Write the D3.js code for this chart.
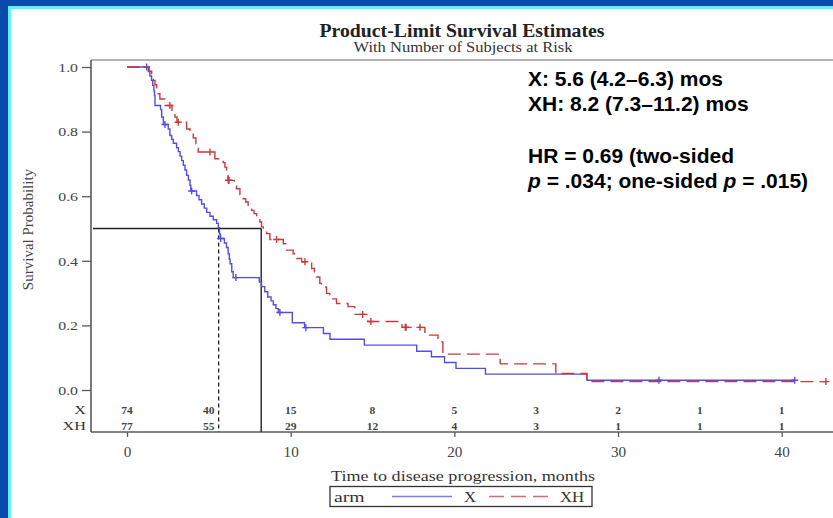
<!DOCTYPE html>
<html>
<head>
<meta charset="utf-8">
<script src="https://cdn.jsdelivr.net/npm/d3@7"></script>
<style>
  html, body { margin: 0; padding: 0; background: #0a4aad; }
  svg { display: block; }
</style>
</head>
<body>
<svg id="chart" width="833" height="518"></svg>
<script>
// Kaplan-Meier progression-free curves, arm X vs arm XH
const armNames = ["X", "XH"];

// arm X: event times (months) and survival after each event
const xEventTimes = [1.30, 1.40, 1.50, 1.57, 1.64, 1.68, 1.71, 2.05, 2.12, 2.22, 2.52, 2.62, 2.73, 2.83, 3.03,
  3.14, 3.24, 3.34, 3.44, 3.54, 3.64, 3.75, 3.85, 3.90, 4.25, 4.40, 4.56, 4.72, 4.87, 5.07, 5.27, 5.48,
  5.58, 5.65, 5.70, 5.95, 6.08, 6.18, 6.25, 6.30, 6.40, 6.49, 8.08, 8.22, 8.42, 8.60, 8.80, 8.94, 9.10,
  9.25, 10.10, 10.85, 12.00, 12.40, 14.50, 17.70, 18.60, 19.40, 20.10, 21.90, 28.10];
const xSurvival = [0.986, 0.972, 0.959, 0.943, 0.926, 0.912, 0.881, 0.868, 0.845, 0.822, 0.808, 0.788, 0.776, 0.764, 0.750,
  0.738, 0.724, 0.710, 0.696, 0.681, 0.665, 0.650, 0.634, 0.616, 0.602, 0.589, 0.576, 0.563, 0.550, 0.538, 0.527, 0.516,
  0.503, 0.483, 0.469, 0.455, 0.441, 0.422, 0.405, 0.391, 0.366, 0.348, 0.334, 0.320, 0.304, 0.288, 0.276, 0.264, 0.252,
  0.240, 0.208, 0.193, 0.175, 0.157, 0.139, 0.120, 0.103, 0.085, 0.067, 0.049, 0.030];
const xCensorTimes = [1.2, 2.32, 3.95, 5.72, 6.65, 9.34, 10.93, 32.5, 40.8];
const xLastTime = 40.8;

// arm XH: event times (months) and survival after each event
const xhEventTimes = [1.36, 1.51, 1.61, 1.71, 1.81, 1.91, 2.01, 2.32, 2.75, 2.93, 3.05, 3.64, 3.85, 4.05, 4.21, 4.35,
  5.37, 5.88, 5.98, 6.08, 6.17, 6.55, 6.69, 6.90, 7.10, 7.25, 7.40, 7.61, 7.76, 7.92, 8.12, 8.22, 8.33, 8.53,
  8.73, 9.55, 9.75, 10.15, 10.36, 10.67, 11.28, 11.45, 11.58, 11.78, 11.88, 12.19, 12.39, 12.80, 13.50, 13.92,
  14.70, 16.80, 18.20, 19.00, 19.30, 22.80, 26.20, 28.10];
const xhSurvival = [0.987, 0.971, 0.958, 0.945, 0.932, 0.917, 0.901, 0.881, 0.860, 0.845, 0.829, 0.808, 0.793, 0.780, 0.762, 0.737,
  0.716, 0.704, 0.690, 0.675, 0.649, 0.636, 0.623, 0.605, 0.592, 0.582, 0.570, 0.556, 0.546, 0.536, 0.520, 0.505, 0.497, 0.484,
  0.466, 0.453, 0.433, 0.422, 0.407, 0.397, 0.376, 0.363, 0.350, 0.330, 0.319, 0.299, 0.282, 0.268, 0.258, 0.234,
  0.212, 0.194, 0.170, 0.149, 0.111, 0.081, 0.051, 0.026];
const xhCensorTimes = [2.62, 3.13, 5.07, 6.19, 6.21, 6.23, 9.14, 10.87, 14.40, 14.90, 17.00, 17.05, 17.90, 42.7];
const xhLastTime = 42.7;

// number of subjects at risk
const riskMonths = [0, 5, 10, 15, 20, 25, 30, 35, 40];
const atRiskX = [74, 40, 15, 8, 5, 3, 2, 1, 1];
const atRiskXH = [77, 55, 29, 12, 4, 3, 1, 1, 1];

// axis ticks
const xTicks = [0, 10, 20, 30, 40];
const yTicks = [0, 0.2, 0.4, 0.6, 0.8, 1.0];

// median PFS (months) and the survival level they are read at
const medianX = 5.6;
const medianXH = 8.2;
const medianLevel = 0.5;

const annotationLines = [
  "X: 5.6 (4.2\u20136.3) mos",
  "XH: 8.2 (7.3\u201311.2) mos",
  "HR = 0.69 (two-sided"
];

const svg = d3.select("#chart");
const serif = "'Liberation Serif', 'Times New Roman', serif";
const sans = "'Liberation Sans', Arial, sans-serif";
const blue = "#4f4fe6";
const red = "#cc3a3f";

// slide frame
svg.append("rect").attr("width", 833).attr("height", 518).attr("fill", "#0a4aad");
svg.append("rect").attr("x", 8).attr("y", 6).attr("width", 825).attr("height", 512).attr("fill", "#5ff0fb");
svg.append("rect").attr("x", 11).attr("y", 9).attr("width", 822).attr("height", 509).attr("fill", "#ffffff");

const x = d3.scaleLinear().domain([0, 40]).range([127, 781.7]);
const y = d3.scaleLinear().domain([0, 1]).range([390, 67]);

const frameLeft = 91, frameTop = 60, axisY = 432, frameRight = 833;

// stretch serif text horizontally
function widen(sel, factor, target) {
  sel.each(function () {
    const len = this.getComputedTextLength();
    this.setAttribute("textLength", target != null ? target : len * factor);
    this.setAttribute("lengthAdjust", "spacingAndGlyphs");
  });
}

// titles
svg.append("text").attr("x", 462).attr("y", 36.5).attr("text-anchor", "middle")
  .attr("font-family", serif).attr("font-weight", "bold").attr("font-size", 18).attr("fill", "#222")
  .text("Product-Limit Survival Estimates").call(widen, null, 285);
svg.append("text").attr("x", 463).attr("y", 51.5).attr("text-anchor", "middle")
  .attr("font-family", serif).attr("font-size", 13.6).attr("fill", "#333")
  .text("With Number of Subjects at Risk").call(widen, null, 219);

// plot frame
svg.append("line").attr("x1", frameLeft).attr("x2", frameRight).attr("y1", frameTop).attr("y2", frameTop)
  .attr("stroke", "#9a9a9a").attr("stroke-width", 1.5);
svg.append("line").attr("x1", frameLeft).attr("x2", frameLeft).attr("y1", frameTop).attr("y2", axisY)
  .attr("stroke", "#5a5a5a").attr("stroke-width", 1.6);
svg.append("line").attr("x1", frameLeft).attr("x2", frameRight).attr("y1", axisY).attr("y2", axisY)
  .attr("stroke", "#5a5a5a").attr("stroke-width", 1.6);

// y axis
const yAxis = svg.append("g").attr("transform", `translate(${frameLeft},0)`)
  .call(d3.axisLeft(y).tickValues(yTicks).tickFormat(d3.format(".1f")).tickSize(9).tickPadding(4));
yAxis.select(".domain").remove();
yAxis.selectAll(".tick line").attr("stroke", "#5a5a5a").attr("stroke-width", 1.3);
yAxis.selectAll(".tick text").attr("font-family", serif).attr("font-size", 13.2).attr("fill", "#444")
  .call(widen, 1.2);

// x axis
const xAxis = svg.append("g").attr("transform", `translate(0,${axisY})`)
  .call(d3.axisBottom(x).tickValues(xTicks).tickFormat(d3.format("d")).tickSize(5).tickPadding(10));
xAxis.select(".domain").remove();
xAxis.selectAll(".tick line").attr("stroke", "#5a5a5a").attr("stroke-width", 1.3);
xAxis.selectAll(".tick text").attr("font-family", serif).attr("font-size", 13.8).attr("fill", "#444")
  .call(widen, 1.1);

// axis titles
svg.append("text").attr("transform", "translate(33,229.5) rotate(-90)").attr("text-anchor", "middle")
  .attr("font-family", serif).attr("font-size", 15).attr("fill", "#444")
  .text("Survival Probability");
svg.append("text").attr("x", 463).attr("y", 480.5).attr("text-anchor", "middle")
  .attr("font-family", serif).attr("font-size", 14.8).attr("fill", "#333")
  .text("Time to disease progression, months").call(widen, null, 264);

// number at risk rows
const riskRows = [
  { name: armNames[0], counts: atRiskX, base: 413.5 },
  { name: armNames[1], counts: atRiskXH, base: 429.5 }
];
riskRows.forEach(row => {
  svg.append("text").attr("x", 86).attr("y", row.base).attr("text-anchor", "end")
    .attr("font-family", serif).attr("font-size", 13.5).attr("fill", "#333").text(row.name)
    .call(widen, 1.2);
  svg.append("g").selectAll("text").data(row.counts).join("text")
    .attr("x", (d, i) => x(riskMonths[i])).attr("y", row.base).attr("text-anchor", "middle")
    .attr("font-family", serif).attr("font-size", 10).attr("font-weight", "bold").attr("fill", "#444")
    .text(d => d).call(widen, 1.15);
});

// median reference lines
svg.append("line").attr("x1", frameLeft + 2).attr("x2", x(medianXH))
  .attr("y1", y(medianLevel)).attr("y2", y(medianLevel))
  .attr("stroke", "#222").attr("stroke-width", 1.4);
svg.append("line").attr("x1", x(medianXH)).attr("x2", x(medianXH))
  .attr("y1", y(medianLevel)).attr("y2", axisY)
  .attr("stroke", "#222").attr("stroke-width", 1.4);
svg.append("line").attr("x1", x(medianX)).attr("x2", x(medianX))
  .attr("y1", y(medianLevel)).attr("y2", axisY)
  .attr("stroke", "#222").attr("stroke-width", 1.3).attr("stroke-dasharray", "4,3");

// survival curves
function stepPoints(times, surv, last) {
  const pts = [[0, 1]];
  times.forEach((t, i) => pts.push([t, surv[i]]));
  pts.push([last, surv[surv.length - 1]]);
  return pts;
}
function survAt(times, surv, t) {
  let s = 1;
  times.forEach((et, i) => { if (et <= t) s = surv[i]; });
  return s;
}
const stepLine = d3.line().x(d => x(d[0])).y(d => y(d[1])).curve(d3.curveStepAfter);

const arms = [
  { times: xEventTimes, surv: xSurvival, last: xLastTime, censor: xCensorTimes, color: blue, dash: null },
  { times: xhEventTimes, surv: xhSurvival, last: xhLastTime, censor: xhCensorTimes, color: red, dash: "13,6" }
];
arms.forEach(a => {
  svg.append("path").datum(stepPoints(a.times, a.surv, a.last))
    .attr("d", stepLine).attr("fill", "none").attr("stroke", a.color)
    .attr("stroke-width", 1.4).attr("stroke-dasharray", a.dash);
  svg.append("g").selectAll("path").data(a.censor).join("path")
    .attr("transform", t => `translate(${x(t)},${y(survAt(a.times, a.surv, t))})`)
    .attr("d", "M-3.5,0H3.5M0,-3.5V3.5")
    .attr("stroke", a.color).attr("stroke-width", 1.4).attr("fill", "none");
});

// legend
const lg = svg.append("g");
lg.append("rect").attr("x", 330).attr("y", 486.5).attr("width", 262).attr("height", 20)
  .attr("fill", "#fff").attr("stroke", "#333").attr("stroke-width", 1.3);
lg.append("text").attr("x", 334).attr("y", 501.5).attr("font-family", serif).attr("font-size", 14.6)
  .attr("fill", "#333").text("arm").call(widen, 1.35);
lg.append("line").attr("x1", 392).attr("x2", 452).attr("y1", 496.5).attr("y2", 496.5)
  .attr("stroke", blue).attr("stroke-width", 1.4).attr("opacity", 0.75);
lg.append("text").attr("x", 464).attr("y", 501.5).attr("font-family", serif).attr("font-size", 14.6)
  .attr("fill", "#333").text(armNames[0]).call(widen, 1.15);
lg.append("line").attr("x1", 489).attr("x2", 548).attr("y1", 496.5).attr("y2", 496.5)
  .attr("stroke", red).attr("stroke-width", 1.4).attr("opacity", 0.75).attr("stroke-dasharray", "15,7");
lg.append("text").attr("x", 560).attr("y", 501.5).attr("font-family", serif).attr("font-size", 14.6)
  .attr("fill", "#333").text(armNames[1]).call(widen, 1.15);

// median / hazard ratio annotation
const ann = svg.append("g").attr("font-family", sans).attr("font-weight", "bold")
  .attr("font-size", 21).attr("fill", "#000");
ann.append("text").attr("x", 528).attr("y", 86).text(annotationLines[0]);
ann.append("text").attr("x", 528).attr("y", 111).text(annotationLines[1]);
ann.append("text").attr("x", 528).attr("y", 163).text(annotationLines[2]);
const pLine = ann.append("text").attr("x", 528).attr("y", 188);
pLine.append("tspan").attr("font-style", "italic").text("p");
pLine.append("tspan").text(" = .034; one-sided ");
pLine.append("tspan").attr("font-style", "italic").text("p");
pLine.append("tspan").text(" = .015)");
</script>
</body>
</html>
